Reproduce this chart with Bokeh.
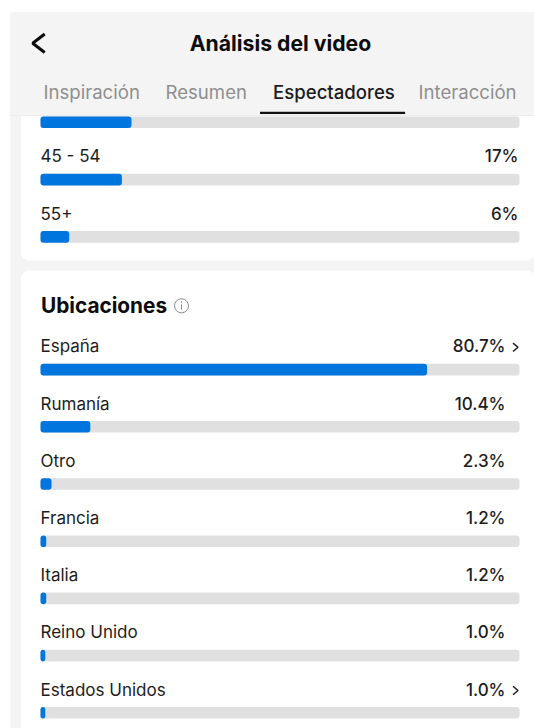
from bokeh.core.properties import value
from bokeh.embed import file_html
from bokeh.models import Range1d
from bokeh.plotting import figure
from bokeh.resources import INLINE

# Audience figures, in percent
age_labels = ["", "45 - 54", "55+"]
age_values = [19, 17, 6]
location_labels = ["España", "Rumanía", "Otro", "Francia", "Italia", "Reino Unido", "Estados Unidos"]
location_values = [80.7, 10.4, 2.3, 1.2, 1.2, 1.0, 1.0]
location_chevron = [True, False, False, False, False, False, True]
tab_labels = ["Inspiración", "Resumen", "Espectadores", "Interacción"]

FONT = "Inter"
MEDIUM = "Inter Medium"
BLUE = "#0075de"
TRACK = "#e0e0e0"
PANEL = "#f4f4f4"
INK = "#1c1c1c"
MUTED = "#8f8f8f"

W, H = 534, 728
BAR_LEFT, BAR_WIDTH = 40.0, 479.0
BAR_H = 11.6


def ptext(fig, x, y, text, size, color=INK, style="normal", align="left", font=FONT):
    # y is the text's baseline
    fig.text([x], [y - size * 0.37], text=[text], text_font=value(font), text_font_size=value(f"{size}px"),
             text_color=color, text_font_style=value(style), text_align=align,
             text_baseline="alphabetic")


p = figure(width=W, height=H, x_range=Range1d(0, W), y_range=Range1d(H, 0),
           output_backend="svg", toolbar_location=None, min_border=0,
           background_fill_color="white", border_fill_color="white", outline_line_color=None)
p.axis.visible = False
p.grid.visible = False

# Percent scale: 0-100 spans the grey track
p.extra_x_ranges["pct"] = Range1d(-BAR_LEFT / BAR_WIDTH * 100, (W - BAR_LEFT) / BAR_WIDTH * 100)

# Page backdrop and the two white cards
p.quad(left=[10], right=[W], top=[12], bottom=[H], fill_color=PANEL, line_color=None)
p.quad(left=[20.5], right=[W], top=[90], bottom=[260], fill_color="white", line_color=None, border_radius=8)
p.quad(left=[20.5], right=[W], top=[270], bottom=[H + 20], fill_color="white", line_color=None, border_radius=8)


def draw_rows(fig, tops, labels, values, text_values, chevrons, value_right):
    centers = [t + BAR_H / 2 for t in tops]
    fig.hbar(y=centers, left=[0] * len(tops), right=[100] * len(tops), height=BAR_H,
             fill_color=TRACK, line_color=None, border_radius=3, x_range_name="pct")
    fig.hbar(y=centers, left=[0] * len(tops), right=values, height=BAR_H,
             fill_color=BLUE, line_color=None, border_radius=3, x_range_name="pct")
    for top, label, txt, chev in zip(tops, labels, text_values, chevrons):
        base = top - 10.7
        if label:
            ptext(fig, 40, base - 0.5, label, 17)
        if txt:
            ptext(fig, value_right, base - 0.5, txt, 17, align="right", font=MEDIUM)
        if chev:
            fig.line([512.5, 517.5, 512.5], [base - 10, base - 5.8, base - 1.6], line_color=INK, line_width=1.5)


# Age rows
age_tops = [116 + 57.3 * i for i in range(3)]
draw_rows(p, age_tops, age_labels, age_values,
          ["", f"{age_values[1]}%", f"{age_values[2]}%"], [False] * 3, 518)

# Location rows
loc_tops = [363.3 + 57.2 * i for i in range(len(location_values))]
draw_rows(p, loc_tops, location_labels, location_values,
          [f"{v:.1f}%" for v in location_values], location_chevron, 505)

# Section heading with info icon
ptext(p, 40.5, 312.8, "Ubicaciones", 20.8, color="#0c0c0c", style="bold")
p.scatter([181], [305.3], marker="circle", size=14, fill_color=None, line_color="#8a8a8a", line_width=1)
p.line([181, 181], [303.8, 309], line_color="#8a8a8a", line_width=1)
p.scatter([181], [301.6], marker="circle", size=1.6, fill_color="#8a8a8a", line_color=None)

# Header bar
p.quad(left=[10], right=[W], top=[12], bottom=[115], fill_color=PANEL, line_color=None)
p.line([10, W], [115, 115], line_color="#ececec", line_width=1)
p.line([44.2, 32.2, 44.2], [33.5, 42.8, 52], line_color="#0c0c0c", line_width=3)
ptext(p, 280, 50, "Análisis del video", 21.2, color="#0c0c0c", style="bold", align="center")

tab_x = [43, 165, 272.5, 418]
for x, label in zip(tab_x, tab_labels):
    active = label == "Espectadores"
    ptext(p, x, 98, label, 18.6, color=INK if active else MUTED, font=MEDIUM if active else FONT)
p.quad(left=[259.5], right=[404.6], top=[111.2], bottom=[113.6], fill_color="#111111", line_color=None)

open("out.html", "w").write(file_html(p, INLINE))
